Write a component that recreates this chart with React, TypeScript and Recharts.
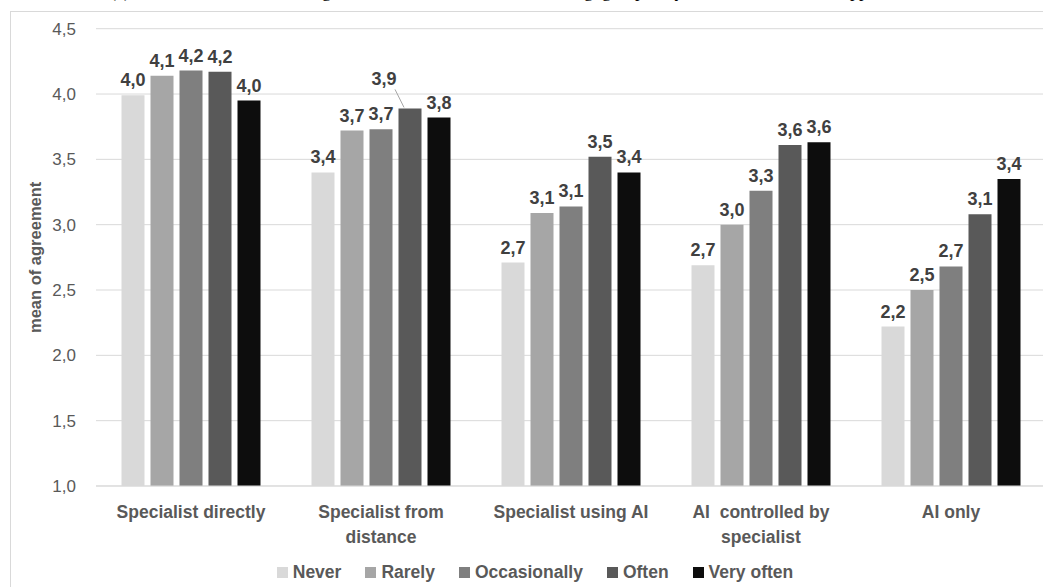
import React from "react";
import { BarChart, Bar, XAxis, YAxis, CartesianGrid, LabelList } from "recharts";

const categories = [
  "Specialist directly",
  "Specialist from\ndistance",
  "Specialist using AI",
  "AI  controlled by\nspecialist",
  "AI only",
];
const seriesNames = ["Never", "Rarely", "Occasionally", "Often", "Very often"];
const seriesKeys = ["never", "rarely", "occasionally", "often", "veryOften"];
const seriesColors = ["#d9d9d9", "#a6a6a6", "#7f7f7f", "#595959", "#0d0d0d"];

const never = [3.99, 3.4, 2.71, 2.69, 2.22];
const rarely = [4.14, 3.72, 3.09, 3.0, 2.5];
const occasionally = [4.18, 3.73, 3.14, 3.26, 2.68];
const often = [4.17, 3.89, 3.52, 3.61, 3.08];
const veryOften = [3.95, 3.82, 3.4, 3.63, 3.35];

const yTicks = [1, 1.5, 2, 2.5, 3, 3.5, 4, 4.5];
const yLabel = "mean of agreement";

const data = categories.map((c, i) => ({
  name: c,
  never: never[i],
  rarely: rarely[i],
  occasionally: occasionally[i],
  often: often[i],
  veryOften: veryOften[i],
}));

const fmt = (v: number) => (Math.round(v * 10) / 10).toFixed(1).replace(".", ",");
const FONT = "'Liberation Sans', Arial, sans-serif";

const makeLabel = (key: string) => (props: any) => {
  const { x, y, width, value, index } = props;
  const cx = x + width / 2;
  if (key === "often" && index === 1) {
    return (
      <g>
        <line x1={cx - 15} y1={y - 19} x2={cx - 6} y2={y - 1} stroke="#a6a6a6" strokeWidth={1} />
        <text x={cx - 26} y={y - 23} textAnchor="middle" fontFamily={FONT} fontWeight="bold" fontSize={18} fill="#404040">
          {fmt(value)}
        </text>
      </g>
    );
  }
  return (
    <text x={cx} y={y - 9} textAnchor="middle" fontFamily={FONT} fontWeight="bold" fontSize={18} fill="#404040">
      {fmt(value)}
    </text>
  );
};

const CategoryTick = (props: any) => {
  const { x, y, payload } = props;
  const lines = String(payload.value).split("\n");
  return (
    <text x={x} y={y + 32} textAnchor="middle" fontFamily={FONT} fontWeight="bold" fontSize={17.5} fill="#595959" style={{ whiteSpace: "pre" }}>
      {lines.map((l, i) => (
        <tspan key={i} x={x} dy={i === 0 ? 0 : 25}>
          {l}
        </tspan>
      ))}
    </text>
  );
};

export default function App() {
  return (
    <div style={{ position: "fixed", left: 0, top: 0, width: 1043, height: 587, overflow: "hidden", background: "#fff" }}>
      <svg width={1043} height={12} style={{ position: "absolute", left: 0, top: 0 }}>
        <text y={-3} fontFamily="'Liberation Serif', serif" fontSize={18} fill="#000">
          <tspan x={110}>(c) Mean scores of the</tspan>
          <tspan x={300}>diagnostic</tspan>
          <tspan x={545}>setting, grouped by</tspan>
          <tspan x={842}>apps</tspan>
        </text>
      </svg>
      <div style={{ position: "absolute", left: 10, top: 11, width: 1100, height: 620, border: "1px solid #d9d9d9", boxSizing: "border-box" }} />
      <div style={{ position: "absolute", left: 0, top: 0 }}>
        <BarChart
          width={1100}
          height={587}
          data={data}
          margin={{ top: 28.7, right: 54, bottom: 41, left: 36 }}
          barGap={6}
          barCategoryGap={25.5}
        >
          <CartesianGrid vertical={false} stroke="#d9d9d9" />
          <XAxis
            dataKey="name"
            height={60}
            axisLine={{ stroke: "#d9d9d9" }}
            tickLine={false}
            tickSize={0}
            tickMargin={0}
            interval={0}
            tick={<CategoryTick />}
          />
          <YAxis
            type="number"
            domain={[1, 4.5]}
            ticks={yTicks}
            width={60}
            axisLine={false}
            tickLine={false}
            tickSize={0}
            tickMargin={20}
            tickFormatter={(v: number) => v.toFixed(1).replace(".", ",")}
            tick={{ fontFamily: FONT, fontSize: 17, fill: "#595959" }}
            label={{
              value: yLabel,
              angle: -90,
              position: "insideLeft",
              dx: -6,
              style: { fontFamily: FONT, fontWeight: "bold", fontSize: 16.5, fill: "#595959", textAnchor: "middle" },
            }}
          />
          {seriesKeys.map((k, i) => (
            <Bar key={k} dataKey={k} name={seriesNames[i]} fill={seriesColors[i]} isAnimationActive={false}>
              <LabelList dataKey={k} content={makeLabel(k)} />
            </Bar>
          ))}
        </BarChart>
      </div>
      <div
        style={{
          position: "absolute",
          left: 0,
          width: 1070,
          top: 559,
          display: "flex",
          justifyContent: "center",
          gap: 24,
          fontFamily: FONT,
          fontWeight: "bold",
          fontSize: 17.5,
          color: "#595959",
          lineHeight: "26px",
        }}
      >
        {seriesNames.map((n, i) => (
          <div key={n} style={{ display: "flex", alignItems: "center" }}>
            <span style={{ display: "inline-block", width: 11, height: 11, background: seriesColors[i], marginRight: 5 }} />
            <span>{n}</span>
          </div>
        ))}
      </div>
    </div>
  );
}
